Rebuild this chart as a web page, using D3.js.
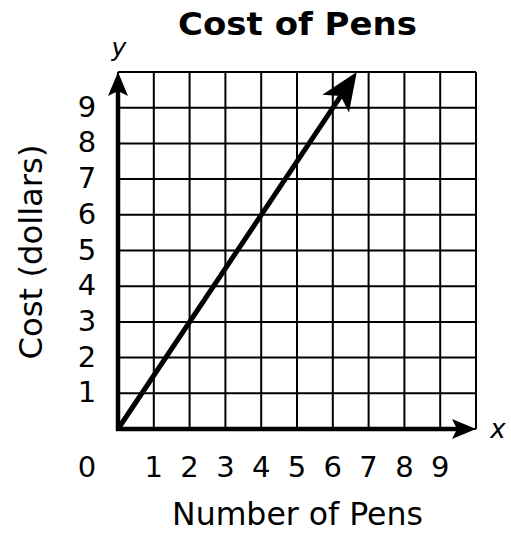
<!DOCTYPE html>
<html>
<head>
<meta charset="utf-8">
<script src="https://cdn.jsdelivr.net/npm/d3@7"></script>
<style>
  html, body { margin: 0; padding: 0; background: #fff; }
  svg { display: block; }
  text { font-family: "DejaVu Sans", Verdana, sans-serif; fill: #000; }
</style>
</head>
<body>
<svg id="chart" width="511" height="534"></svg>
<script>
// Cost of pens: proportional relationship, $1.50 per pen
const title = "Cost of Pens";
const xLabel = "Number of Pens";
const yLabel = "Cost (dollars)";
const gridValues = [0, 1, 2, 3, 4, 5, 6, 7, 8, 9, 10];
const xTickLabels = [1, 2, 3, 4, 5, 6, 7, 8, 9];
const yTickLabels = [1, 2, 3, 4, 5, 6, 7, 8, 9];
const pens = [0, 6.67];
const cost = [0, 10];

const svg = d3.select("#chart");
const margin = { left: 118, right: 35, top: 72, bottom: 105 };
const W = 511, H = 534;

const x = d3.scaleLinear().domain([0, 10]).range([margin.left, W - margin.right]);
const y = d3.scaleLinear().domain([0, 10]).range([H - margin.bottom, margin.top]);

// grid
const grid = svg.append("g").attr("stroke", "#000").attr("stroke-width", 2);
grid.selectAll("line.v").data(gridValues).join("line")
  .attr("class", "v")
  .attr("x1", d => x(d)).attr("x2", d => x(d))
  .attr("y1", y(0)).attr("y2", y(10));
grid.selectAll("line.h").data(gridValues).join("line")
  .attr("class", "h")
  .attr("y1", d => y(d)).attr("y2", d => y(d))
  .attr("x1", x(0)).attr("x2", x(10));

// arrowhead markers (tip at the origin, notched back)
const defs = svg.append("defs");
function arrowMarker(id, len, halfW, notch) {
  defs.append("marker")
    .attr("id", id)
    .attr("markerUnits", "userSpaceOnUse")
    .attr("viewBox", `${-len - 2} ${-halfW - 2} ${len + 4} ${2 * halfW + 4}`)
    .attr("markerWidth", len + 4)
    .attr("markerHeight", 2 * halfW + 4)
    .attr("refX", -notch).attr("refY", 0)
    .attr("orient", "auto")
    .append("path")
    .attr("d", `M0,0 L${-len},${-halfW} L${-notch},0 L${-len},${halfW} Z`)
    .attr("fill", "#000");
  return notch;
}
const axisNotch = arrowMarker("arrowAxis", 24, 10, 19);
const lineNotch = arrowMarker("arrowLine", 38, 16, 29);

// shorten a segment so the arrowhead tip lands on the end point
function shortened(x0, y0, x1, y1, d) {
  const dx = x1 - x0, dy = y1 - y0, L = Math.hypot(dx, dy);
  return [x1 - dx / L * d, y1 - dy / L * d];
}

// axes
const xEnd = shortened(x(0), y(0), x(10), y(0), axisNotch);
svg.append("line")
  .attr("x1", x(0) - 2).attr("y1", y(0))
  .attr("x2", xEnd[0]).attr("y2", xEnd[1])
  .attr("stroke", "#000").attr("stroke-width", 4.5)
  .attr("marker-end", "url(#arrowAxis)");
const yEnd = shortened(x(0), y(0), x(0), y(10), axisNotch);
svg.append("line")
  .attr("x1", x(0)).attr("y1", y(0) + 2)
  .attr("x2", yEnd[0]).attr("y2", yEnd[1])
  .attr("stroke", "#000").attr("stroke-width", 4.5)
  .attr("marker-end", "url(#arrowAxis)");

// data line
const pts = pens.map((p, i) => [x(p), y(cost[i])]);
const last = pts.length - 1;
const lEnd = shortened(pts[last - 1][0], pts[last - 1][1], pts[last][0], pts[last][1], lineNotch);
const drawPts = pts.slice(0, last).concat([lEnd]);
svg.append("path")
  .datum(drawPts)
  .attr("d", d3.line())
  .attr("fill", "none")
  .attr("stroke", "#000")
  .attr("stroke-width", 5)
  .attr("marker-end", "url(#arrowLine)");

// tick labels
const tickSize = 29;
svg.selectAll("text.xt").data(xTickLabels).join("text")
  .attr("class", "xt")
  .attr("x", d => x(d)).attr("y", 477)
  .attr("text-anchor", "middle")
  .attr("font-size", tickSize)
  .text(d => d);
svg.append("text")
  .attr("x", 87).attr("y", 477)
  .attr("text-anchor", "middle")
  .attr("font-size", tickSize)
  .text(0);
svg.selectAll("text.yt").data(yTickLabels).join("text")
  .attr("class", "yt")
  .attr("x", 87).attr("y", d => y(d) + 9)
  .attr("text-anchor", "middle")
  .attr("font-size", tickSize)
  .text(d => d);

// axis letters
svg.append("text")
  .attr("x", 119).attr("y", 56)
  .attr("text-anchor", "middle")
  .attr("font-size", 25)
  .attr("font-style", "italic")
  .text("y");
svg.append("text")
  .attr("x", 498).attr("y", 438)
  .attr("text-anchor", "middle")
  .attr("font-size", 26)
  .attr("font-style", "italic")
  .text("x");

// centred text, widened horizontally to a given run length
function wideText(str, cx, cy, size, width, rotate, bold) {
  const g = svg.append("g")
    .attr("transform", `translate(${cx},${cy}) rotate(${rotate})`);
  const t = g.append("text")
    .attr("text-anchor", "middle")
    .attr("font-size", size)
    .attr("font-weight", bold ? "bold" : "normal")
    .text(str);
  const natural = t.node().getComputedTextLength();
  t.attr("transform", `scale(${width / natural},1)`);
  return t;
}

wideText(title, 297.5, 35, 32, 239, 0, true);
wideText(xLabel, 297.5, 525, 32, 251, 0, false);
wideText(yLabel, 42, 252, 32, 215, -90, false);
</script>
</body>
</html>
